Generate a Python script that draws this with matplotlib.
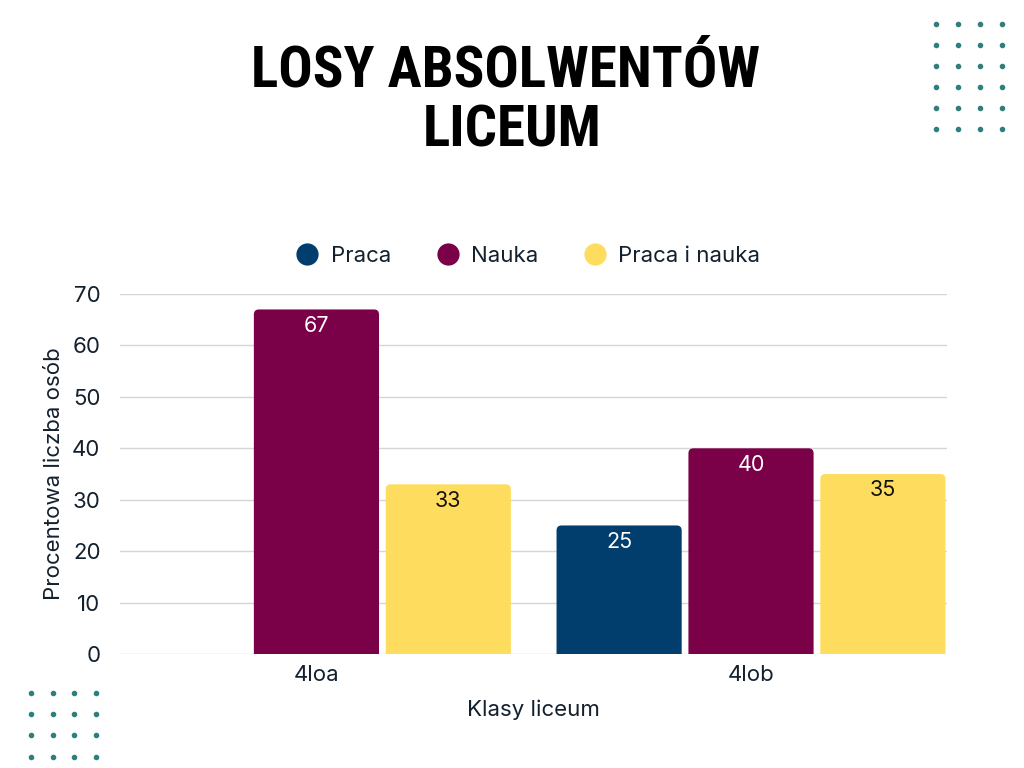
import numpy as np
import matplotlib.pyplot as plt
from matplotlib.patches import FancyBboxPatch
from matplotlib.lines import Line2D

classes = ['4loa', '4lob']
series = ['Praca', 'Nauka', 'Praca i nauka']
praca = [0, 25]
nauka = [67, 40]
praca_nauka = [33, 35]
colors = ['#013e6e', '#7a0047', '#fedd5e']
label_colors = ['white', 'white', '#111111']

plt.rcParams['font.family'] = ['Inter', 'DejaVu Sans']
text_col = '#13202e'

fig = plt.figure(figsize=(10.24, 7.68), dpi=100)
ax = fig.add_axes([0.1172, 0.1484, 0.8076, 0.46875])

x = np.arange(len(classes))
step = 0.3035
width = 0.288
ax.set_xlim(-0.452, 1.451)
ax.set_ylim(0, 70)

# aspect for rounded corners (data units per pixel)
bbox = ax.get_window_extent()
xu = (1.451 + 0.452) / bbox.width
yu = 70 / bbox.height
r_px = 5

for i, vals in enumerate([praca, nauka, praca_nauka]):
    bars = ax.bar(x + (i - 1) * step, vals, width, color=colors[i], label=series[i])
    for b, v in zip(bars, vals):
        b.set_visible(False)
        if v == 0:
            continue
        p = FancyBboxPatch((b.get_x(), -3), b.get_width(), b.get_height() + 3,
                           boxstyle='round,pad=0,rounding_size=%f' % (r_px * xu),
                           mutation_aspect=yu / xu, facecolor=colors[i],
                           edgecolor='none', zorder=3)
        ax.add_patch(p)
        ax.text(b.get_x() + b.get_width() / 2, v - 3.2, str(v), ha='center',
                va='center', fontsize=15.5, color=label_colors[i], zorder=4)

ax.set_yticks(range(0, 71, 10))
ax.yaxis.grid(True, color='#d6d6d6', linewidth=1)
ax.set_axisbelow(True)
for s in ax.spines.values():
    s.set_visible(False)
ax.tick_params(length=0, labelsize=16, colors=text_col, pad=14)
ax.tick_params(axis='x', pad=8)
ax.set_xticks(x)
ax.set_xticklabels(classes)
ax.set_xlabel('Klasy liceum', fontsize=16, color=text_col, labelpad=10)
ax.set_ylabel('Procentowa liczba osób', fontsize=16, color=text_col, labelpad=6)

handles = [Line2D([], [], marker='o', linestyle='none', markersize=16,
                  markerfacecolor=c, markeredgecolor='none') for c in colors]
fig.legend(handles, series, loc='center', bbox_to_anchor=(0.5105, 0.667), ncol=3,
           frameon=False, fontsize=16, handletextpad=0.05, columnspacing=1.55,
           labelcolor=text_col)

title_font = ['Roboto Condensed', 'DejaVu Sans Condensed', 'Liberation Sans Narrow',
              'DejaVu Sans']
fig.text(0.494, 0.908, 'LOSY ABSOLWENTÓW', ha='center', va='center', fontsize=41,
         fontweight='bold', family=title_font, fontstretch='condensed')
fig.text(0.5, 0.830, 'LICEUM', ha='center', va='center', fontsize=41,
         fontweight='bold', family=title_font, fontstretch='condensed')

# decorative dot grids
dot = '#2e7f80'
gx, gy = np.meshgrid([936, 958, 980, 1002], [24, 45, 66, 87, 108, 129])
fig.add_artist(Line2D(gx.ravel() / 1024, 1 - gy.ravel() / 768, linestyle='none',
                      marker='o', markersize=3, color=dot, transform=fig.transFigure))
gx, gy = np.meshgrid([31, 53, 74, 96], [693, 714, 735, 757])
fig.add_artist(Line2D(gx.ravel() / 1024, 1 - gy.ravel() / 768, linestyle='none',
                      marker='o', markersize=3, color=dot, transform=fig.transFigure))

fig.savefig('out.png', dpi=100, facecolor='white')
